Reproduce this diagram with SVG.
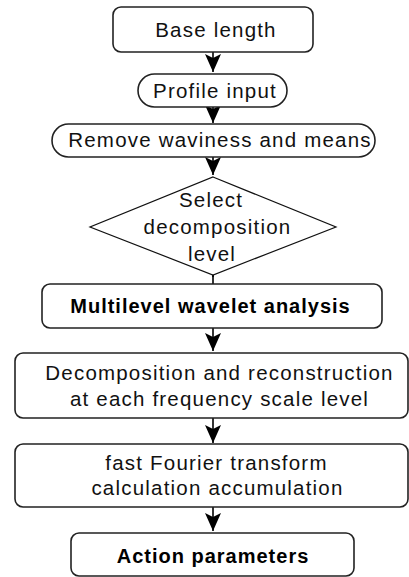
<svg xmlns="http://www.w3.org/2000/svg" width="409" height="577" viewBox="0 0 409 577">
<defs>
<marker id="ah" viewBox="0 0 18 16" refX="18" refY="8" markerWidth="18" markerHeight="16" markerUnits="userSpaceOnUse" orient="auto">
<path d="M0,0 L18,8 L0,16 L4,8 Z" fill="#000"/>
</marker>
<style>
.box{fill:#fff;stroke:#222;stroke-width:1.6}
.dia{fill:#fff;stroke:#111;stroke-width:1.2}
.t{font-family:"Liberation Sans",Arial,sans-serif;font-size:20.5px;letter-spacing:1.2px;fill:#111;text-anchor:middle}
.b{font-family:"Liberation Sans",Arial,sans-serif;font-size:20px;font-weight:bold;letter-spacing:1px;fill:#000;text-anchor:middle}
.c{stroke:#000;stroke-width:1.6;fill:none}
</style>
</defs>
<rect width="409" height="577" fill="#fff"/>
<g id="connectors">
<line class="c" x1="213" y1="52" x2="213" y2="72" marker-end="url(#ah)"/>
<line class="c" x1="213" y1="107" x2="213" y2="123" marker-end="url(#ah)"/>
<line class="c" x1="213" y1="157" x2="213" y2="175" marker-end="url(#ah)"/>
<line class="c" x1="213" y1="260" x2="213" y2="277" marker-end="url(#ah)"/>
<line class="c" x1="213" y1="275" x2="213" y2="285"/>
<line class="c" x1="213" y1="328" x2="213" y2="351" marker-end="url(#ah)"/>
<line class="c" x1="213" y1="418" x2="213" y2="443" marker-end="url(#ah)"/>
<line class="c" x1="213" y1="507" x2="213" y2="531" marker-end="url(#ah)"/>
</g>
<g id="base-length">
<rect class="box" x="113" y="7" width="200" height="45" rx="8"/>
<text class="t" x="216" y="37">Base length</text>
</g>
<g id="profile-input">
<rect class="box" x="138" y="74" width="149" height="33" rx="16.5"/>
<text class="t" x="215" y="98">Profile input</text>
</g>
<g id="remove-waviness">
<rect class="box" x="52" y="124" width="323" height="33" rx="16.5"/>
<text class="t" x="220" y="147">Remove waviness and means</text>
</g>
<g id="select-level">
<polygon class="dia" points="213,177 336,227 213,275 90,227"/>
<text class="t" x="211" y="207">Select</text>
<text class="t" x="217.5" y="234">decomposition</text>
<text class="t" x="212" y="261">level</text>
</g>
<g id="multilevel">
<rect class="box" x="42" y="284" width="340" height="44" rx="8"/>
<text class="b" x="210.5" y="313">Multilevel wavelet analysis</text>
</g>
<g id="decomposition">
<rect class="box" x="15" y="353" width="393" height="65" rx="8"/>
<text class="t" x="219.5" y="380">Decomposition and reconstruction</text>
<text class="t" x="219.5" y="406">at each frequency scale level</text>
</g>
<g id="fft">
<rect class="box" x="15" y="444" width="393" height="63" rx="8"/>
<text class="t" x="216.5" y="470">fast Fourier transform</text>
<text class="t" x="217.5" y="495">calculation accumulation</text>
</g>
<g id="action">
<rect class="box" x="71" y="533" width="283" height="43" rx="8"/>
<text class="b" x="213" y="563">Action parameters</text>
</g>
</svg>
